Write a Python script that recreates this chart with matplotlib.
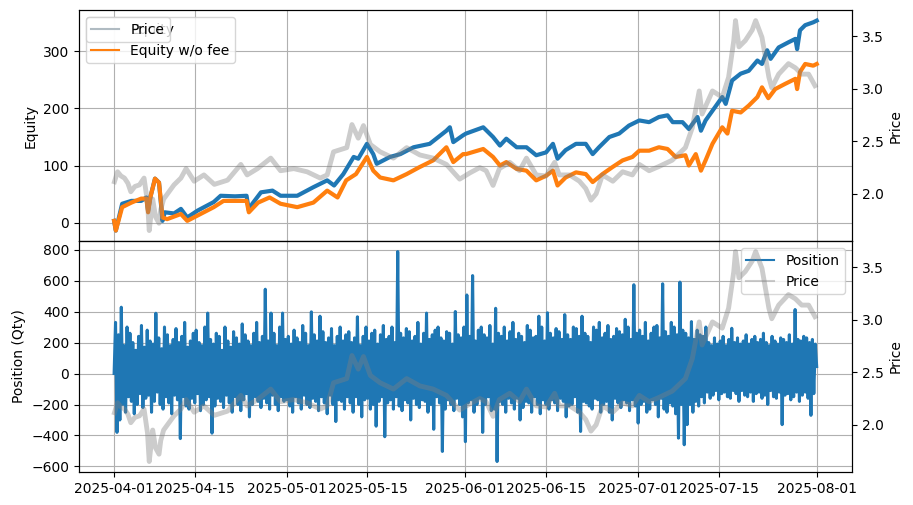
import numpy as np
import pandas as pd
import matplotlib
matplotlib.use("Agg")
import matplotlib.pyplot as plt

START = pd.Timestamp("2025-04-01")
N_DAYS = 122

# equity (days since start, value)
eq_days = [0, 0.3, 1.4, 3, 4.7, 5.6, 5.9, 6.3, 7.1, 7.8, 8.4, 8.8, 10.4, 11.6, 12.7, 14.5, 17.3,
           18.5, 21, 23, 23.4, 24, 25.5, 27.5, 28.9, 31.8, 34.6, 37, 38.2, 39.8, 41.6, 42.4, 43.9,
           45, 45.6, 47.9, 49.7, 52, 54.8, 57.7, 58.3, 58.9, 60.6, 61.1, 64.1, 65.8, 67, 68.1, 69.9,
           71.6, 73.3, 75, 76.2, 77, 78.4, 80.2, 81.9, 83.1, 84.2, 86, 87.7, 89.4, 91.2, 92.9, 94.6,
           96.1, 97, 98.7, 99.8, 101.3, 101.9, 102.7, 103.9, 105.6, 106.2, 107.3, 108.8, 110.2,
           111.7, 112.5, 113.4, 114, 115.4, 117.1, 118.3, 118.6, 119.1, 120, 121.4, 122]
eq_vals = [3, -14, 33, 38, 38, 44, 21, 45, 77, 70, 3, 18, 16, 24, 9, 21, 36,
           47, 46, 47, 21, 33, 53, 56, 47, 47, 62, 74, 65, 85, 115, 112, 138,
           120, 103, 115, 120, 132, 138, 161, 167, 141, 153, 156, 167, 150, 135, 147, 132,
           132, 118, 123, 138, 112, 127, 138, 138, 120, 132, 150, 156, 170, 179, 176, 185,
           188, 176, 176, 164, 185, 161, 179, 196, 220, 208, 249, 261, 266,
           284, 278, 302, 287, 307, 316, 322, 304, 337, 346, 351, 354]

nofee_days = [0, 0.3, 1.4, 3, 4.7, 5.6, 5.9, 6.3, 7.1, 7.8, 8.4, 9.2, 11.6, 12.7, 15, 17.3, 19,
              23, 23.4, 25, 27, 28.9, 31.8, 34.6, 37, 38.8, 40.3, 42, 43.9, 45, 46.2, 48.5, 50.8,
              53, 55.4, 57.7, 58.9, 60.6, 61.1, 64.1, 65.8, 67, 68.1, 69.9, 71.6, 73.3, 75, 76.2,
              77, 78.4, 80.2, 81.9, 83.1, 84.8, 86.5, 88.3, 90, 91.2, 92.9, 94.6, 96.1, 97.5, 99.2,
              99.8, 101, 101.9, 102.7, 103.9, 105.6, 106.5, 107.3, 108.8, 110.2, 111.7, 112.5,
              113.6, 114.8, 116.5, 118.3, 118.6, 119.1, 120, 121.4, 122]
nofee_vals = [3, -14, 27, 35, 42, 42, 18, 44, 77, 70, 9, 6, 15, 3, 15, 27, 38,
              38, 18, 35, 44, 33, 27, 35, 56, 44, 74, 85, 115, 91, 79, 74, 85,
              97, 109, 132, 106, 120, 120, 129, 115, 100, 106, 94, 91, 74, 82, 91,
              65, 79, 88, 85, 71, 85, 97, 109, 115, 126, 126, 132, 129, 115, 118,
              100, 120, 91, 109, 138, 167, 156, 196, 193, 205, 220, 237,
              218, 234, 243, 252, 234, 264, 278, 275, 278]

price_days = [0.06, 0.6, 1.2, 1.8, 2.4, 2.9, 3.6, 4.4, 5.2, 5.8, 6.1, 6.7, 7.2, 7.8, 8.1, 8.6, 9.0,
              10.4, 11.6, 12.5, 13.9, 15.6, 17.4, 19.7, 22, 23.1, 24.9, 27.2, 28.9, 31.2, 33.5,
              35.8, 37, 38.1, 40.4, 41.3, 42.4, 43.3, 44.5, 46.2, 48.5, 50.8, 53.1, 55.4, 57.7,
              60, 61.2, 61.8, 63.5, 64.6, 65.8, 66.9, 68.7, 70.4, 71.6, 73.3, 75, 76.5, 77.3,
              79.1, 80.8, 81.9, 82.8, 83.7, 84.8, 86.6, 88.3, 90, 91.2, 92.9, 94.6, 96.9, 99.2,
              100.4, 101.6, 102.1, 103.9, 105.6, 106.7, 107.6, 107.9, 108.5, 109.6, 110.8, 111.4,
              112.5, 113.7, 114.2, 115.4, 117.1, 118.3, 119.4, 120.6, 121.7]
price_vals = [2.115, 2.21, 2.17, 2.15, 2.10, 2.02, 2.07, 2.085, 2.15, 1.92, 1.65, 1.95, 1.78, 1.72, 1.85, 1.95, 1.98,
              2.085, 2.15, 2.24, 2.12, 2.18, 2.09, 2.13, 2.28, 2.18, 2.24, 2.34, 2.22, 2.24, 2.21,
              2.15, 2.18, 2.40, 2.44, 2.66, 2.53, 2.65, 2.47, 2.40, 2.34, 2.44, 2.37, 2.34, 2.28,
              2.14, 2.18, 2.20, 2.25, 2.22, 2.08, 2.24, 2.30, 2.22, 2.34, 2.18, 2.17, 2.30, 2.18,
              2.18, 2.12, 2.05, 1.94, 2.00, 2.18, 2.12, 2.21, 2.18, 2.28, 2.22, 2.26, 2.32, 2.44,
              2.63, 2.98, 2.76, 2.98, 2.92, 3.11, 3.46, 3.65, 3.40, 3.46, 3.56, 3.65,
              3.49, 3.11, 3.01, 3.14, 3.24, 3.20, 3.14, 3.14, 3.03]

# position, four samples per day
pos_apr = [0, 330, -380, 250, -300, 428, -200, 180, -250, 300, -150, 260, -180, 200, -260, 150,
           -200, 240, -130, 310, -220, 170, -160, 280, -140, 210, -250, 190, -180, 389, -120, 230,
           -200, 160, -230, 300, -150, 250, -190, 180, -260, 220, -140, 290, -170, 200, -420, 240,
           -150, 330, -210, 170, -230, 210, -160, 260, -190, 280, -130, 200, -240, 180, -200, 300,
           -170, 390, -150, 220, -385, 190, -210, 260, -160, 240, -180, 150, -220, 300, -140, 210,
           -190, 170, -250, 270, -150, 230, -200, 190, -240, 320, -170, 250, -130, 210, -280, 180,
           -200, 260, -150, 330, -180, 200, -220, 240, -160, 544, -190, 210, -230, 390, -140, 260,
           -200, 180, -240, 300, -150, 390, -180, 220]
pos_may = [-170, 240, -210, 190, -250, 280, -150, 230, -190, 200, -230, 310, -140, 260, -200, 180,
           -220, 398, -160, 250, -180, 210, -240, 370, -150, 270, -190, 200, -260, 230, -140, 290,
           -200, 180, -310, 240, -170, 300, -180, 210, -230, 250, -150, 270, -190, 200, -250, 230,
           -150, 366, -200, 180, -280, 240, -170, 300, -160, 210, -230, 260, -200, 280, -340, 190,
           -180, 250, -150, 310, -408, 220, -190, 240, -170, 300, -230, 200, -150, 787, -210, 260,
           -240, 230, -170, 290, -190, 270, -300, 210, -160, 240, -200, 330, -220, 190, -170, 260,
           -180, 390, -250, 220, -200, 250, -360, 280, -150, 300, -190, 230, -503, 210, -230, 270,
           -170, 260, -200, 190, -240, 400, -160, 250, -200, 230, -280, 300]
pos_jun = [-440, 507, -190, 240, -170, 632, -250, 210, -200, 280, -160, 300, -380, 250, -200, 230,
           -150, 310, -240, 190, -230, 421, -568, 260, -180, 240, -200, 300, -250, 210, -160, 270,
           -190, 330, -230, 220, -160, 260, -300, 240, -220, 200, -180, 310, -190, 280, -250, 230,
           -150, 240, -200, 370, -260, 300, -170, 210, -200, 392, -230, 260, -170, 230, -190, 290,
           -240, 270, -160, 220, -180, 380, -280, 250, -210, 220, -200, 300, -150, 290, -250, 240,
           -374, 370, -180, 260, -190, 240, -210, 200, -230, 300, -160, 280, -170, 330, -250, 230,
           -200, 260, -180, 310, -250, 220, -300, 240, -160, 290, -190, 270, -220, 250, -170, 350,
           -190, 300, -240, 220, -170, 573, -210, 260]
pos_jul = [-320, 280, -200, 240, -180, 330, -250, 210, -230, 260, -170, 300, -200, 310, -280, 230,
           -160, 579, -230, 270, -250, 240, -190, 330, -210, 300, -260, 250, -417, 590, -200, 280,
           -460, 260, -330, 230, -200, 335, -250, 220, -180, 280, -210, 250, -150, 240, -190, 300,
           -120, 200, -160, 180, -140, 230, -110, 190, -170, 210, -130, 240, -120, 180, -150, 220,
           -160, 292, -110, 200, -130, 230, -180, 190, -110, 210, -140, 250, -150, 190, -120, 220,
           -180, 240, -130, 200, -120, 220, -160, 260, -140, 200, -200, 180, -110, 240, -150, 210,
           -160, 190, -120, 230, -330, 220, -140, 200, -130, 250, -170, 190, -150, 413, -120, 220,
           -180, 210, -140, 240, -120, 230, -160, 200, -270, 220, -130, 190, 45]


def to_dates(days):
    return START + pd.to_timedelta(np.asarray(days, dtype=float), unit="D")


position = np.array(pos_apr + pos_may + pos_jun + pos_jul, dtype=float)
pos_t = to_dates(np.linspace(0, N_DAYS, len(position)))
eq_t = to_dates(eq_days)
nofee_t = to_dates(nofee_days)
price_t = to_dates(price_days)

fig, (ax1, ax3) = plt.subplots(2, 1, sharex=True, figsize=(9.13, 5.05), dpi=100)
fig.subplots_adjust(left=0.0865, right=0.933, top=0.980, bottom=0.0653, hspace=0)

# top: equity curves + price
ax1.plot(eq_t, eq_vals, label="Equity", lw=3)
ax1.plot(nofee_t, nofee_vals, label="Equity w/o fee", lw=3)
ax1.set_ylabel("Equity")
ax1.grid(True)
ax1.legend(loc="upper left", handlelength=2.0)
for h in ax1.get_legend().get_lines():
    h.set_linewidth(1.5)

ax2 = ax1.twinx()
ax2.plot(price_t, price_vals, color="gray", alpha=0.4, lw=3.5, label="Price")
ax2.set_ylabel("Price")
ax2.legend(loc="upper left")
for h in ax2.get_legend().get_lines():
    h.set_linewidth(1.5)

# bottom: position + price
l1 = ax3.plot(pos_t, position, lw=2.2, label="Position")
ax3.set_ylabel("Position (Qty)")
ax3.grid(True)

ax4 = ax3.twinx()
l2 = ax4.plot(price_t, price_vals, color="gray", alpha=0.4, lw=3.5, label="Price")
ax4.set_ylabel("Price")
lines = l1 + l2
leg = ax3.legend(lines, [l.get_label() for l in lines], loc="upper right")
for h in leg.get_lines():
    h.set_linewidth(1.5)

fig.savefig("out.png", dpi=100)
